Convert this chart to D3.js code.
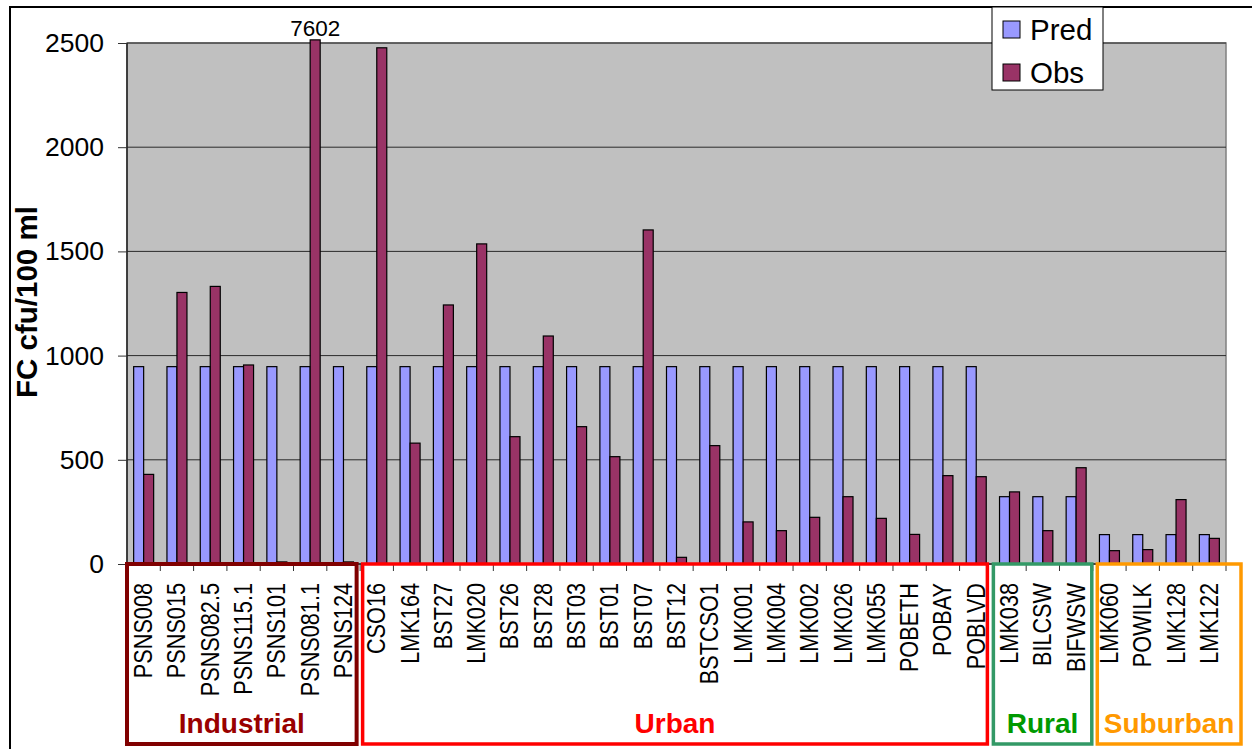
<!DOCTYPE html>
<html><head><meta charset="utf-8">
<script src="https://cdn.jsdelivr.net/npm/d3@7"></script>
<style>
html,body{margin:0;padding:0;background:#fff;}
svg{display:block;font-family:"Liberation Sans",Arial,sans-serif;}
</style></head>
<body><svg id="c" width="1252" height="749"></svg>
<script>
const sites = ["PSNS008","PSNS015","PSNS082.5","PSNS115.1","PSNS101","PSNS081.1","PSNS124",
  "CSO16","LMK164","BST27","LMK020","BST26","BST28","BST03","BST01","BST07","BST12","BSTCSO1",
  "LMK001","LMK004","LMK002","LMK026","LMK055","POBETH","POBAY","POBLVD",
  "LMK038","BILCSW","BIFWSW",
  "LMK060","POWILK","LMK128","LMK122"];
const pred = [947,947,947,947,947,947,947,
  947,947,947,947,947,947,947,947,947,947,947,
  947,947,947,947,947,947,947,947,
  323,323,323,
  141,141,141,141];
const obs = [430,1303,1332,955,10,7602,10,
  2477,580,1243,1536,611,1094,659,515,1603,32,568,
  202,160,224,323,219,142,424,419,
  346,160,462,
  64,69,309,123];
const seriesNames = ["Pred","Obs"];
const groupNames = ["Industrial","Urban","Rural","Suburban"];
const groupFirst = ["PSNS008","CSO16","LMK038","LMK060"];
const groupLast = ["PSNS124","POBLVD","BIFWSW","LMK122"];
const yTicks = [0,500,1000,1500,2000,2500];
const yTitle = "FC cfu/100 ml";

const colors = {Pred:"#9999FF", Obs:"#993366"};
const groupText = ["#990000","#FF0000","#009900","#FF9900"];
const groupStroke = ["#800000","#FF0000","#339966","#FF9900"];
const groupPadL = [0,2.5,0.5,4.5];
const groupPadR = [-3.5,-5.5,-1,15];

const svg = d3.select("#c");
const L=127, R=1226, T=43, B=564;
const x = d3.scaleBand().domain(sites).range([L,R]).paddingInner(0).paddingOuter(0);
const xs = d3.scaleBand().domain(seriesNames).range([0,x.bandwidth()]).paddingInner(0).paddingOuter(0.665);
const y = d3.scaleLinear().domain([0,2500]).range([B,T]);
const capVal = 2515;

// outer border
svg.append("rect").attr("x",10).attr("y",7).attr("width",1300).attr("height",800)
  .attr("fill","#fff").attr("stroke","#000").attr("stroke-width",2);

// plot area
svg.append("rect").attr("x",L).attr("y",T).attr("width",R-L).attr("height",B-T)
  .attr("fill","#C0C0C0").attr("stroke","#808080").attr("stroke-width",1.5);

// gridlines
svg.append("g").selectAll("line").data(yTicks.filter(d=>d>0)).join("line")
  .attr("x1",L).attr("x2",R).attr("y1",d=>y(d)).attr("y2",d=>y(d))
  .attr("stroke","#2a2a2a").attr("stroke-width",1);

// bars
const data = sites.map((s,i)=>({site:s, Pred:pred[i], Obs:obs[i]}));
const gb = svg.append("g").selectAll("g").data(data).join("g")
  .attr("transform",d=>`translate(${x(d.site)},0)`);
gb.selectAll("rect").data(d=>seriesNames.map(k=>({k, v:d[k]}))).join("rect")
  .attr("x",d=>xs(d.k)).attr("width",xs.bandwidth())
  .attr("y",d=>y(Math.min(d.v,capVal))).attr("height",d=>B-y(Math.min(d.v,capVal)))
  .attr("fill",d=>colors[d.k]).attr("stroke","#000").attr("stroke-width",1.2);

// overflow label
data.filter(d=>d.Obs>capVal).forEach(d=>{
  svg.append("text").attr("x",x(d.site)+xs("Obs")+xs.bandwidth()/2).attr("y",36)
    .attr("text-anchor","middle").attr("font-size",22.5).text(d.Obs);
});

// y axis
svg.append("line").attr("x1",L).attr("x2",L).attr("y1",T).attr("y2",B).attr("stroke","#202020").attr("stroke-width",1.5);
const ya = svg.append("g").attr("transform",`translate(${L},0)`)
  .call(d3.axisLeft(y).tickValues(yTicks).tickSize(9).tickPadding(14).tickFormat(d3.format("d")));
ya.select(".domain").remove();
ya.selectAll("line").attr("stroke","#333");
ya.selectAll("text").attr("font-size",26.5).attr("font-family","'Liberation Sans',Arial,sans-serif").attr("fill","#000");

// x axis line
svg.append("line").attr("x1",L).attr("x2",R).attr("y1",B).attr("y2",B).attr("stroke","#202020").attr("stroke-width",1.5);
// category boundary ticks
const bounds = sites.map(s=>x(s)).concat([R]);
svg.append("g").selectAll("line").data(bounds).join("line")
  .attr("x1",d=>d).attr("x2",d=>d).attr("y1",B).attr("y2",B+7)
  .attr("stroke","#333").attr("stroke-width",1);

// group boxes
groupNames.forEach((g,i)=>{
  const x0 = x(groupFirst[i]) + groupPadL[i];
  const x1 = x(groupLast[i]) + x.bandwidth() + groupPadR[i];
  svg.append("rect").attr("x",x0).attr("y",B).attr("width",x1-x0).attr("height",744-B)
    .attr("fill","none").attr("stroke",groupStroke[i]).attr("stroke-width",i===0?4:3.5);
  svg.append("text").attr("x",(x0+x1)/2).attr("y",733).attr("text-anchor","middle")
    .attr("font-size",28).attr("font-weight","bold").attr("fill",groupText[i]).text(g);
});

// x labels
svg.append("g").selectAll("text").data(sites).join("text")
  .attr("transform",d=>`translate(${x(d)+x.bandwidth()/2+8.5},583) rotate(-90) scale(0.85,1)`)
  .attr("text-anchor","end").attr("font-size",25.5).attr("fill","#000").text(d=>d);

// y title
svg.append("text").attr("transform","translate(37,302) rotate(-90)")
  .attr("text-anchor","middle").attr("font-size",29.5).attr("font-weight","bold").text(yTitle);

// legend
const lg = svg.append("g");
lg.append("rect").attr("x",992).attr("y",7).attr("width",111).attr("height",83)
  .attr("fill","#fff").attr("stroke","#000").attr("stroke-width",1);
seriesNames.forEach((k,i)=>{
  lg.append("rect").attr("x",1003).attr("y",21+i*43).attr("width",17).attr("height",17)
    .attr("fill",colors[k]).attr("stroke","#000").attr("stroke-width",1);
  lg.append("text").attr("x",1030).attr("y",40+i*43).attr("font-size",29.5).text(k);
});
</script></body></html>
